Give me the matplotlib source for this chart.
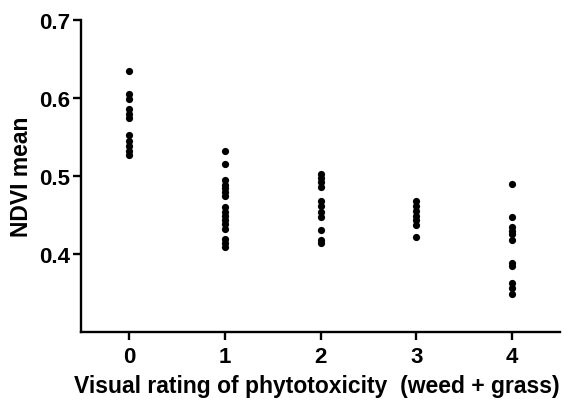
import numpy as np
import matplotlib.pyplot as plt

plt.rcParams['font.family'] = ['Liberation Sans', 'DejaVu Sans']
plt.rcParams['font.weight'] = 'bold'

# NDVI mean per visual rating
rating = [0, 1, 2, 3, 4]
ndvi_0 = [0.634, 0.605, 0.598, 0.586, 0.580, 0.574, 0.552, 0.545, 0.538, 0.532, 0.527]
ndvi_1 = [0.532, 0.515, 0.495, 0.489, 0.484, 0.479, 0.474, 0.460, 0.454, 0.449,
          0.444, 0.438, 0.432, 0.419, 0.414, 0.409]
ndvi_2 = [0.503, 0.497, 0.492, 0.486, 0.468, 0.462, 0.454, 0.448, 0.431, 0.418, 0.414]
ndvi_3 = [0.468, 0.462, 0.455, 0.449, 0.443, 0.437, 0.422]
ndvi_4 = [0.490, 0.448, 0.435, 0.430, 0.425, 0.418, 0.388, 0.385, 0.363, 0.357, 0.349]
groups = [ndvi_0, ndvi_1, ndvi_2, ndvi_3, ndvi_4]

fig = plt.figure(figsize=(5.68, 4.02), dpi=100)
ax = fig.add_axes([0.1426, 0.1716, 0.8434, 0.7764])

for r, vals in zip(rating, groups):
    ax.plot([r] * len(vals), vals, 'o', color='black', markersize=5.2, markeredgewidth=0)

ax.set_xlim(-0.5, 4.5)
ax.set_ylim(0.30, 0.70)
ax.set_xticks(rating)
ax.set_yticks([0.4, 0.5, 0.6, 0.7])
ax.set_yticklabels(['0.4', '0.5', '0.6', '0.7'])

ax.spines['top'].set_visible(False)
ax.spines['right'].set_visible(False)
ax.spines['left'].set_linewidth(1.7)
ax.spines['bottom'].set_linewidth(1.7)
ax.tick_params(axis='both', width=1.7, length=6, labelsize=16, direction='out')
ax.tick_params(axis='x', pad=4)
ax.tick_params(axis='y', pad=2)
for lbl in ax.get_xticklabels() + ax.get_yticklabels():
    lbl.set_fontweight('bold')

ax.set_xlabel('Visual rating of phytotoxicity  (weed + grass)', fontsize=16.5,
              fontweight='bold')
ax.xaxis.set_label_coords(0.492, -0.135)
ax.set_ylabel('NDVI mean', fontsize=16.5, fontweight='bold', labelpad=4)

fig.savefig('out.png', dpi=100)
